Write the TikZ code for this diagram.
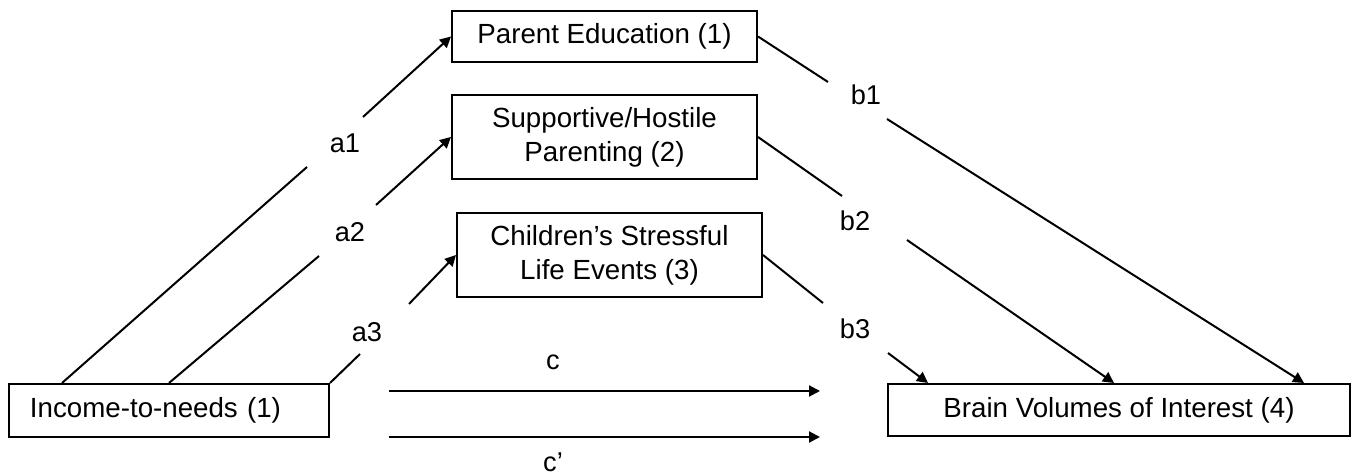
\documentclass[tikz,border=0pt]{standalone}
\usepackage{fontspec}
\setmainfont{Liberation Sans}
\usetikzlibrary{arrows.meta}
\begin{document}
\begin{tikzpicture}[x=0.5pt,y=-0.5pt,
  box/.style={draw, line width=1pt, inner sep=0pt, align=center, font=\fontsize{13.85}{17}\selectfont},
  conn/.style={line width=1pt},
  arr/.style={line width=1pt, -{Triangle[length=5.5pt,width=5.5pt]}},
  lbl/.style={font=\fontsize{13.6}{16}\selectfont, inner sep=0pt}]
\useasboundingbox (0,0) rectangle (1357,474);

% boxes
\node[box, minimum width=152.5pt, minimum height=25.5pt] (par) at (604.5,36.5) {Parent Education (1)};
\node[box, minimum width=152.5pt, minimum height=42pt] (sup) at (604.5,137) {Supportive/Hostile\\Parenting (2)};
\node[box, minimum width=152.5pt, minimum height=42pt] (chi) at (609.5,255) {Children’s Stressful\\Life Events (3)};
\node[box, minimum width=160pt, minimum height=26.5pt, text width=139pt, align=left, inner xsep=10.5pt] (inc) at (169,410.5) {Income-to-needs (1)};
\node[box, minimum width=231pt, minimum height=26pt] (brain) at (1119,410) {Brain Volumes of Interest (4)};

% labels
\node[lbl] (la1) at (345,143) {a1};
\node[lbl] (la2) at (350,232) {a2};
\node[lbl] (la3) at (367,332) {a3};
\node[lbl] (lb1) at (866,95) {b1};
\node[lbl] (lb2) at (855,221) {b2};
\node[lbl] (lb3) at (855,329) {b3};
\node[lbl] (lc) at (553,362) {c};
\node[lbl] (lcp) at (553,462) {c’};

% gap ends
\coordinate (a1s) at (307,167); \coordinate (a1e) at (363,117);
\coordinate (a2s) at (319,256); \coordinate (a2e) at (376,205);
\coordinate (a3s) at (360,354); \coordinate (a3e) at (409,304);
\coordinate (b1s) at (828,82);  \coordinate (b1e) at (887,119);
\coordinate (b2s) at (842,196); \coordinate (b2e) at (907,240);
\coordinate (b3s) at (823,303); \coordinate (b3e) at (888,353);
\coordinate (c1s) at (389,391); \coordinate (c1e) at (820,391);
\coordinate (c2s) at (389,437); \coordinate (c2e) at (820,437);

% a paths
\draw[conn] ([xshift=27pt]inc.north west) -- (a1s);
\draw[arr] (a1e) -- (par.west);
\draw[conn] ([xshift=80.5pt]inc.north west) -- (a2s);
\draw[arr] (a2e) -- (sup.west);
\draw[conn] (inc.north east) -- (a3s);
\draw[arr] (a3e) -- (chi.west);

% b paths
\draw[conn] (par.east) -- (b1s);
\draw[arr] (b1e) -- ([xshift=208.5pt]brain.north west);
\draw[conn] (sup.east) -- (b2s);
\draw[arr] (b2e) -- ([xshift=113.5pt]brain.north west);
\draw[conn] (chi.east) -- (b3s);
\draw[arr] (b3e) -- ([xshift=20.5pt]brain.north west);

% c paths
\draw[arr] (c1s) -- (c1e);
\draw[arr] (c2s) -- (c2e);
\end{tikzpicture}
\end{document}
